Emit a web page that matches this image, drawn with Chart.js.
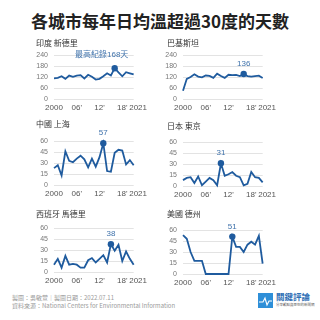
<!DOCTYPE html>
<html>
<head>
<meta charset="utf-8">
<script src="https://cdn.jsdelivr.net/npm/chart.js@4.4.1/dist/chart.umd.min.js"></script>
<style>
  body { margin: 0; width: 320px; height: 320px; background: #fff; position: relative; overflow: hidden;
         font-family: "Noto Sans CJK TC", "Noto Sans", sans-serif; }
  .abs { position: absolute; white-space: nowrap; }
  #title { left: 0; width: 320px; top: 10px; text-align: center; font-size: 17px; font-weight: bold; color: #222; line-height: 22px; }
  .city { font-size: 8px; color: #333; line-height: 8px; }
  .foot { font-size: 6px; color: #9a9a9a; line-height: 6px; left: 12px; }
  canvas { position: absolute; }
</style>
</head>
<body>
<div id="title" class="abs">各城市每年日均溫超過30度的天數</div>

<div class="abs foot" style="top:295px">製圖：吳敏萱｜製圖日期：2022.07.11</div>
<div class="abs foot" style="top:303px">資料來源：National Centers for Environmental Information</div>

<svg class="abs" style="left:258px;top:293px" width="15" height="15" viewBox="0 0 15 15">
  <rect width="15" height="15" fill="#2e8fd8"/>
  <polyline points="1,9 5,9 7,5 9,12 11,8 14,8" fill="none" stroke="#fff" stroke-width="1.1"/>
</svg>
<div class="abs" style="left:276px;top:292px;font-size:8.5px;line-height:9px;color:#2f6fb5;font-weight:bold">關鍵評論</div>
<div class="abs" style="left:276px;top:303px;font-size:3.5px;line-height:4px;color:#666">分享觀點與思想的新聞網</div>

<script>
// years 2000 - 2021
const years = ['2000','2001','2002','2003','2004','2005','2006','2007','2008','2009','2010',
               '2011','2012','2013','2014','2015','2016','2017','2018','2019','2020','2021'];
const tickYears = ['2000', '2006', '2012', '2018', '2021'];
const tickText  = ['2000', "06'", "12'", "18'", '    2021'];

const cities = ['印度 新德里', '巴基斯坦', '中國 上海', '日本 東京', '西班牙 馬德里', '美國 德州'];

const newDelhi = [113, 115, 124, 110, 128, 121, 128, 130, 112, 132, 121, 106, 110, 124, 140, 128, 168, 145, 124, 146, 140, 134];
const pakistan = [45, 110, 120, 135, 122, 118, 128, 126, 115, 138, 125, 115, 132, 130, 132, 125, 136, 125, 122, 125, 127, 115];
const shanghai = [23, 27, 13, 46, 33, 31, 36, 40, 35, 24, 36, 25, 38, 57, 19, 18, 44, 48, 47, 28, 34, 27];
const tokyo    = [8, 11, 12, 4, 13, 1, 6, 11, 8, 1, 31, 14, 16, 19, 14, 12, 1, 3, 19, 12, 11, 5];
const madrid   = [10, 18, 6, 22, 10, 11, 10, 6, 6, 16, 19, 13, 18, 23, 13, 38, 29, 37, 15, 28, 18, 10];
const texas    = [53, 48, 30, 18, 18, 18, 0, 0, 0, 0, 0, 0, 0, 51, 37, 37, 30, 40, 44, 40, 52, 14];

const series = [newDelhi, pakistan, shanghai, tokyo, madrid, texas];
const yMax   = [240, 240, 60, 60, 60, 60];
const yStep  = [60, 60, 15, 15, 15, 15];
const peakYear = ['2016', '2016', '2013', '2010', '2015', '2013'];
const peakText = ['最高紀錄168天', '136', '57', '31', '38', '51'];

// panel placement
const canvasLeft = [30, 159, 30, 159, 30, 159];
const canvasTop  = [41, 41, 127, 128, 214, 216];
const titleTop   = [39, 39, 120, 122, 210, 210];
const titleLeft  = [36, 167, 36, 167, 36, 167];

const LINE = '#1f5b9e';
Chart.defaults.font.family = '"Liberation Sans", "Noto Sans CJK TC", sans-serif';

const peakLabel = {
  id: 'peakLabel',
  afterDatasetsDraw(chart, args, opts) {
    const pt = chart.getDatasetMeta(0).data[opts.index];
    const c = chart.ctx;
    c.save();
    c.font = '8px "Liberation Sans", "Noto Sans CJK TC", sans-serif';
    c.fillStyle = '#3f72ab';
    c.textAlign = 'center';
    c.textBaseline = 'middle';
    c.fillText(opts.text, pt.x + opts.dx, pt.y + opts.dy);
    c.restore();
  }
};

series.forEach((vals, k) => {
  const cv = document.createElement('canvas');
  cv.width = 121; cv.height = 75;
  cv.style.left = canvasLeft[k] + 'px';
  cv.style.top = canvasTop[k] + 'px';
  document.body.appendChild(cv);

  const t = document.createElement('div');
  t.className = 'abs city';
  t.style.left = titleLeft[k] + 'px';
  t.style.top = titleTop[k] + 'px';
  t.textContent = cities[k];
  document.body.appendChild(t);

  const peakIdx = years.indexOf(peakYear[k]);
  new Chart(cv.getContext('2d'), {
    type: 'line',
    data: {
      labels: years,
      datasets: [{
        data: vals,
        borderColor: LINE,
        backgroundColor: LINE,
        borderWidth: 1.8,
        tension: 0,
        pointRadius: ctx => ctx.dataIndex === peakIdx ? 3.2 : 0,
        pointBorderWidth: 0,
        clip: false
      }]
    },
    options: {
      responsive: false,
      animation: false,
      layout: { padding: { top: 14, right: 12, left: 0, bottom: 0 } },
      plugins: {
        legend: { display: false },
        tooltip: { enabled: false },
        peakLabel: { index: peakIdx, text: peakText[k], dx: k === 0 ? -13 : 0, dy: k === 0 ? -13.5 : -10 }
      },
      scales: {
        x: {
          offset: false,
          grid: { display: false, drawTicks: false },
          border: { display: false },
          afterFit: s => { s.height = 17; },
          ticks: {
            autoSkip: false, maxRotation: 0, padding: 4,
            color: '#555', font: { size: 8 },
            callback: (v, i) => {
              const j = tickYears.indexOf(years[i]);
              return j >= 0 ? tickText[j] : '';
            }
          }
        },
        y: {
          min: 0, max: yMax[k],
          grid: { color: '#e3e3e3', lineWidth: 1, drawTicks: false },
          border: { display: false },
          afterFit: s => { s.width = 24; },
          ticks: { stepSize: yStep[k], autoSkip: false, padding: 6, color: '#777', font: { size: 7 } }
        }
      }
    },
    plugins: [peakLabel]
  });
});
</script>
</body>
</html>
